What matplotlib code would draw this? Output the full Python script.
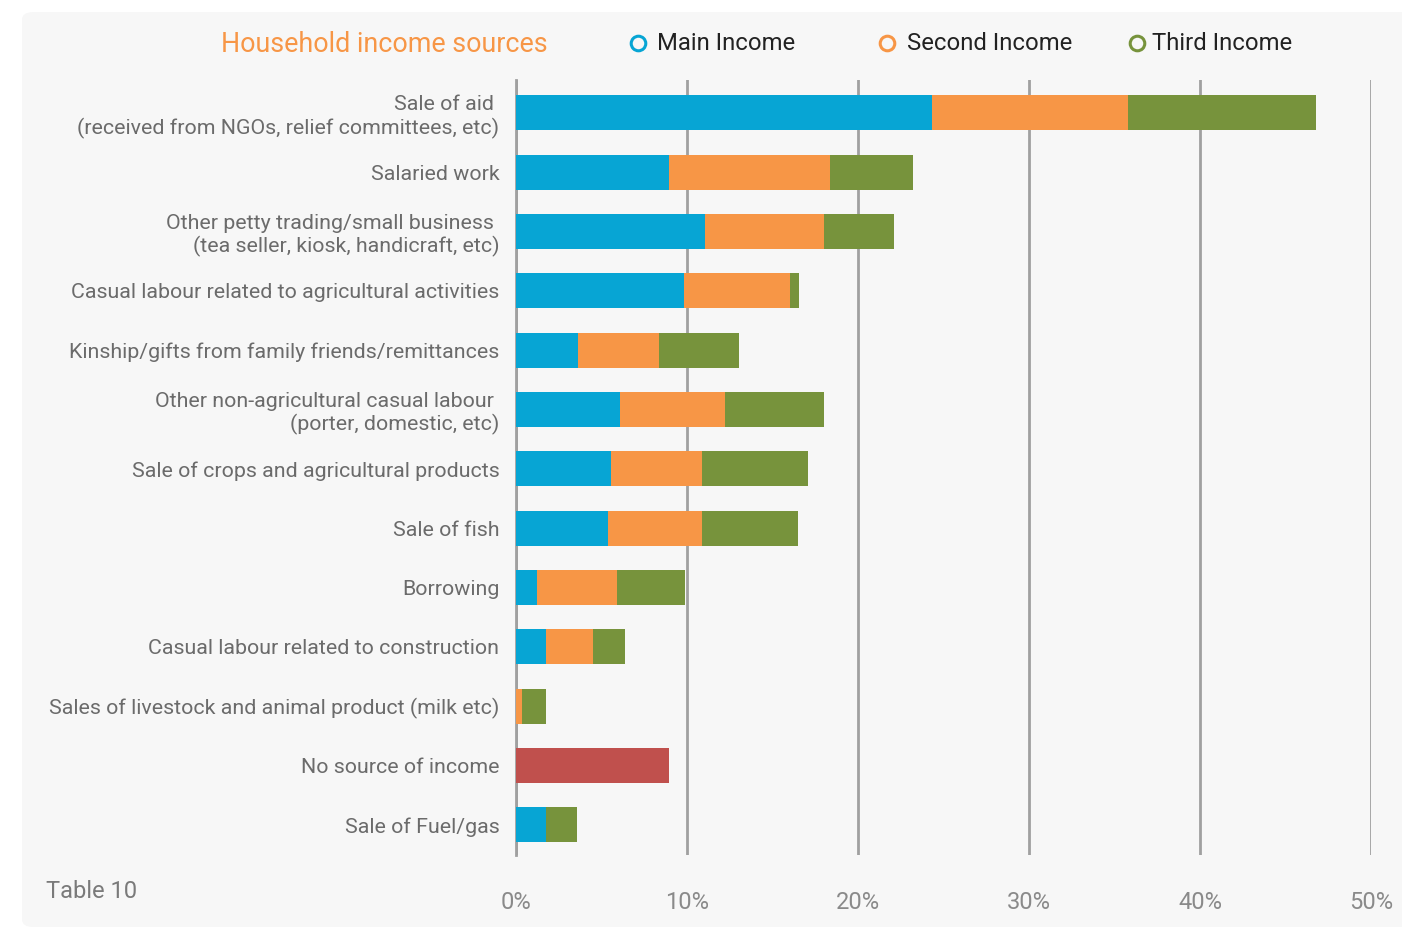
import matplotlib.pyplot as plt
import numpy as np
from matplotlib.patches import FancyBboxPatch
from matplotlib.lines import Line2D
import matplotlib.ticker as ticker

plt.rcParams['font.family'] = ['Roboto', 'DejaVu Sans']

# Income sources and the share of households (%) for each income rank
categories = [
    "Sale of aid \n(received from NGOs, relief committees, etc)",
    "Salaried work",
    "Other petty trading/small business \n(tea seller, kiosk, handicraft, etc)",
    "Casual labour related to agricultural activities",
    "Kinship/gifts from family friends/remittances",
    "Other non-agricultural casual labour \n(porter, domestic, etc)",
    "Sale of crops and agricultural products",
    "Sale of fish",
    "Borrowing",
    "Casual labour related to construction",
    "Sales of livestock and animal product (milk etc)",
    "No source of income",
    "Sale of Fuel/gas",
]
main_income = [24.3, 8.95, 11.05, 9.8, 3.6, 6.1, 5.55, 5.4, 1.2, 1.75, 0.0, 0.0, 1.75]
second_income = [11.5, 9.4, 6.95, 6.2, 4.75, 6.1, 5.3, 5.5, 4.7, 2.75, 0.35, 0.0, 0.0]
third_income = [11.0, 4.85, 4.1, 0.55, 4.7, 5.8, 6.25, 5.6, 4.0, 1.9, 1.4, 0.0, 1.8]
no_income = [0, 0, 0, 0, 0, 0, 0, 0, 0, 0, 0, 8.95, 0]
x_ticks = [0, 10, 20, 30, 40, 50]

blue = '#07a5d4'
orange = '#f79646'
green = '#77933c'
red = '#c0504d'
grid_grey = '#a0a0a0'
label_grey = '#6b6b6b'

fig = plt.figure(figsize=(14.02, 9.27), dpi=100)
fig.patch.set_facecolor('white')

# Rounded light panel behind everything
panel = FancyBboxPatch((22 / 1402, 0), 1.2, 1 - 12 / 927 - 0.0001,
                       boxstyle="round,pad=0,rounding_size=0.008",
                       transform=fig.transFigure, facecolor='#f7f7f7',
                       edgecolor='none', zorder=-5)
fig.patches.append(panel)

ax = fig.add_axes([516 / 1402, 1 - 855 / 927, (1371 - 516) / 1402, (855 - 80) / 927])
ax.set_facecolor('none')
ax.set_zorder(2)

y = np.arange(len(categories))
main = np.array(main_income)
second = np.array(second_income)
third = np.array(third_income)
h = 0.59

ax.barh(y, main, height=h, color=blue, zorder=3)
ax.barh(y, second, left=main, height=h, color=orange, zorder=3)
ax.barh(y, third, left=main + second, height=h, color=green, zorder=3)
ax.barh(y, no_income, height=h, color=red, zorder=3)

ax.set_xlim(0, 50)
ax.set_ylim(len(categories) - 1 + 0.506, -0.556)
ax.xaxis.set_major_locator(ticker.FixedLocator(x_ticks))
ax.xaxis.set_major_formatter(ticker.FuncFormatter(lambda v, p: f"{v:.0f}%"))
ax.grid(axis='x', color=grid_grey, linewidth=2, zorder=1)
ax.set_axisbelow(True)
ax.set_yticks(y)
ax.set_yticklabels(categories, fontsize=15.4, color=label_grey, linespacing=1.2)
ax.tick_params(axis='y', length=0, pad=12)
ax.tick_params(axis='x', length=0, pad=26, labelsize=17, labelcolor='#8a8a8a')
for s in ['top', 'right', 'bottom']:
    ax.spines[s].set_visible(False)
ax.spines['left'].set_color(grid_grey)
ax.spines['left'].set_linewidth(2)

# Title and legend row
fig.text(221 / 1402, 1 - 44 / 927, "Household income sources", fontsize=19.4,
         color=orange, va='center', ha='left')
legend_items = [(638, 657, blue, "Main Income"),
                (887, 907, orange, "Second Income"),
                (1137, 1152, green, "Third Income")]
for mx, tx, c, name in legend_items:
    fig.add_artist(Line2D([mx / 1402], [1 - 43 / 927], marker='o', markersize=10.5,
                          markerfacecolor='none', markeredgecolor=c,
                          markeredgewidth=2.2, linestyle='none',
                          transform=fig.transFigure))
    fig.text(tx / 1402, 1 - 44 / 927, name, fontsize=17.2, color='#222222',
             va='center', ha='left')

fig.text(46 / 1402, 1 - 892 / 927, "Table 10", fontsize=17, color='#7a7a7a',
         va='center', ha='left')

fig.savefig('out.png', dpi=100, facecolor=fig.get_facecolor())
